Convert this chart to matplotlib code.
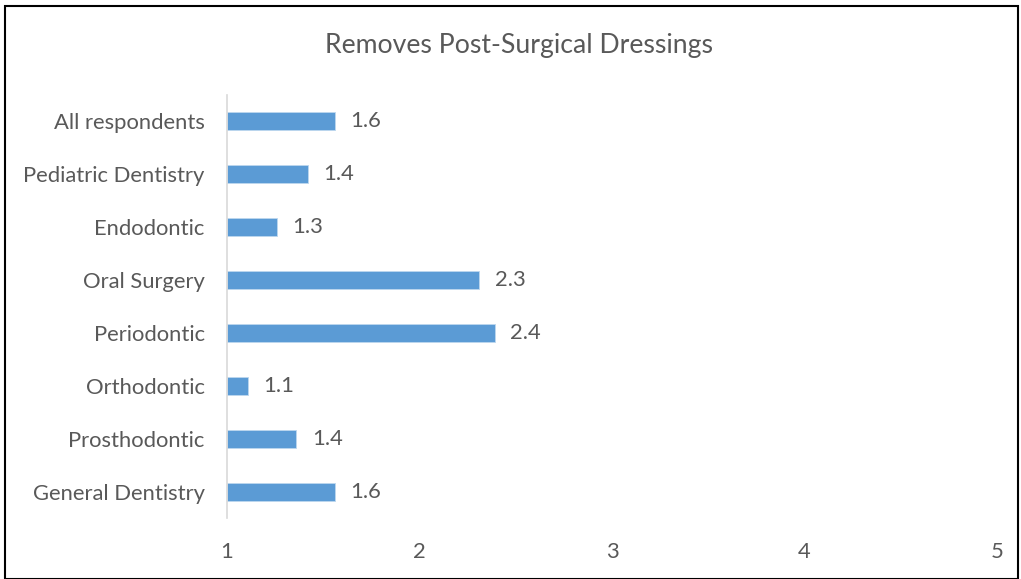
import matplotlib
matplotlib.use("Agg")
import matplotlib.pyplot as plt
from matplotlib.patches import Rectangle

categories = ["All respondents", "Pediatric Dentistry", "Endodontic", "Oral Surgery",
              "Periodontic", "Orthodontic", "Prosthodontic", "General Dentistry"]
values = [1.56, 1.42, 1.26, 2.31, 2.39, 1.11, 1.36, 1.56]
xticks = [1, 2, 3, 4, 5]
title = "Removes Post-Surgical Dressings"

W, H = 1021, 579
fig = plt.figure(figsize=(W/100, H/100), dpi=100)
plt.rcParams['font.family'] = ['Lato', 'DejaVu Sans']
txt = '#595959'
fs = 15.8

ax = fig.add_axes([227/W, 1-518/H, (997-227)/W, (518-95)/H])
n = len(categories)
ypos = list(range(n))[::-1]
ax.barh(ypos, [v - 1 for v in values], left=1, height=0.34, color='#5B9BD5',
        edgecolor='#BDD7EE', linewidth=0.6)
for y, v in zip(ypos, values):
    ax.text(v + 0.08, y, f"{v:.1f}", va='center', ha='left', fontsize=fs, color=txt)
ax.set_xlim(1, 5)
ax.set_ylim(-0.5, n - 0.5)
ax.set_xticks(xticks)
ax.set_xticklabels([str(t) for t in xticks], fontsize=fs, color=txt)
ax.set_yticks(ypos)
ax.set_yticklabels(categories, fontsize=fs, color=txt)
ax.tick_params(axis='x', length=0, pad=17)
ax.tick_params(axis='y', length=0, pad=16)
for s in ['top', 'right', 'bottom']:
    ax.spines[s].set_visible(False)
ax.spines['left'].set_color('#D9D9D9')
ax.spines['left'].set_linewidth(1.2)

fig.text(519/W, 1-46/H, title, ha='center', va='center', fontsize=19.2, color=txt)
fig.patches.append(Rectangle((5/W, 0), (1018-5)/W, 1-6/H, transform=fig.transFigure,
                             fill=False, edgecolor='black', linewidth=1.5))
fig.savefig("out.png", dpi=100)
